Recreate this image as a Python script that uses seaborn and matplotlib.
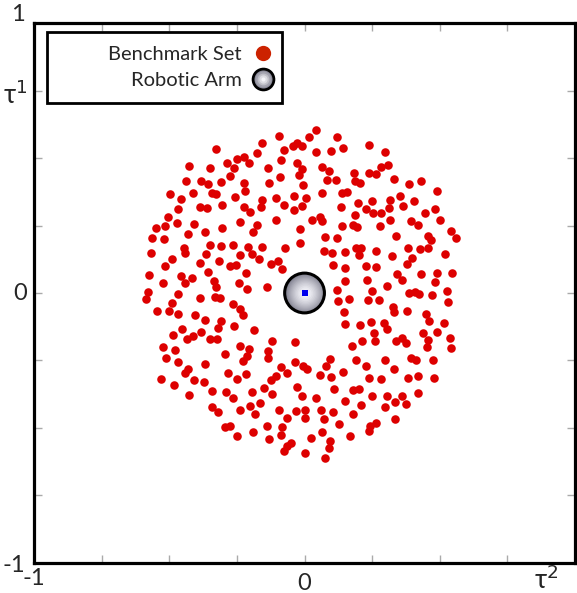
import numpy as np
import matplotlib
matplotlib.use('Agg')
import matplotlib.pyplot as plt
import seaborn as sns
from matplotlib.lines import Line2D
from matplotlib.patches import Rectangle
from matplotlib.legend_handler import HandlerTuple

# benchmark set positions (tau2, tau1)
bench_x = [0.044, -0.096, 0.017, 0.120, -0.159, -0.028, -0.042, -0.010, 0.237, -0.326,
           -0.077, 0.042, 0.096, 0.142, 0.297, -0.174, -0.224, -0.248, -0.086, -0.205,
           -0.287, -0.426, -0.348, -0.259, -0.028, -0.135, 0.066, 0.089, -0.011, 0.309,
           0.282, 0.184, 0.239, 0.266, -0.022, -0.089, -0.438, -0.384, -0.357, -0.308,
           -0.275, -0.223, -0.131, 0.083, 0.115, 0.186, 0.205, 0.330, 0.430, 0.388,
           -0.007, -0.496, -0.411, -0.342, -0.328, -0.221, 0.063, 0.137, 0.158, 0.488,
           -0.457, -0.256, -0.156, -0.104, -0.040, 0.006, 0.199, 0.251, 0.316, 0.352,
           0.406, -0.466, -0.387, -0.359, -0.306, -0.225, -0.202, -0.162, -0.075, -0.039,
           -0.011, 0.135, 0.227, 0.252, 0.311, 0.364, 0.483, -0.505, -0.548, -0.516,
           -0.473, -0.407, -0.238, -0.174, -0.105, 0.027, 0.058, 0.066, 0.188, 0.281,
           0.316, 0.392, 0.444, 0.501, -0.304, -0.017, -0.191, 0.138, 0.178, 0.195,
           0.278, 0.420, 0.543, -0.563, -0.521, -0.431, -0.369, -0.018, 0.076, 0.119,
           0.337, 0.455, 0.468, 0.560, -0.350, -0.310, -0.265, -0.208, -0.156, -0.446,
           -0.442, -0.074, 0.072, 0.103, 0.148, 0.190, 0.208, 0.200, 0.263, 0.382,
           0.428, 0.458, -0.566, -0.366, -0.240, -0.194, -0.170, -0.490, -0.317, 0.325,
           0.520, -0.515, -0.387, -0.277, -0.252, -0.124, -0.098, -0.083, 0.107, 0.148,
           0.227, 0.266, 0.397, 0.379, -0.357, -0.218, -0.575, -0.458, -0.415, -0.442,
           -0.335, -0.328, -0.241, -0.137, 0.151, 0.232, 0.303, 0.342, 0.362, 0.429,
           0.488, 0.545, 0.484, -0.525, -0.580, -0.587, -0.467, -0.387, -0.332, -0.314,
           -0.213, 0.120, 0.123, 0.163, 0.233, 0.276, 0.251, 0.388, 0.408, 0.423,
           0.473, 0.525, 0.531, -0.491, -0.545, -0.502, -0.469, -0.266, -0.239, -0.227,
           0.145, 0.326, 0.330, 0.379, 0.449, -0.453, -0.406, -0.369, -0.308, 0.151,
           0.206, 0.244, 0.292, 0.303, 0.461, 0.516, -0.487, -0.435, -0.414, -0.381,
           -0.350, -0.322, -0.320, -0.260, -0.188, 0.256, 0.439, 0.488, -0.522, -0.478,
           -0.512, -0.466, -0.295, -0.238, -0.205, -0.120, -0.034, -0.135, 0.176, 0.214,
           0.262, 0.339, 0.360, 0.376, 0.458, 0.453, 0.539, 0.540, -0.368, -0.431,
           -0.441, -0.529, -0.482, -0.407, -0.373, -0.283, -0.250, -0.216, -0.228, -0.214,
           -0.136, -0.087, -0.065, -0.034, -0.004, 0.009, 0.080, 0.093, 0.143, 0.189,
           0.229, 0.297, 0.330, 0.393, 0.411, 0.474, -0.426, -0.341, -0.289, -0.265,
           -0.195, -0.151, -0.120, -0.124, -0.104, -0.029, -0.011, 0.042, 0.056, 0.097,
           0.110, 0.148, 0.178, 0.201, 0.240, 0.282, 0.251, 0.303, 0.360, 0.382,
           0.419, 0.477, 0.419, 0.335, 0.374, -0.342, -0.320, -0.238, -0.203, -0.184,
           -0.163, -0.096, -0.063, -0.032, 0.000, 0.002, 0.061, 0.105, 0.072, 0.208,
           0.180, 0.297, 0.333, 0.265, 0.241, 0.238, -0.293, -0.276, -0.249, -0.190,
           -0.137, -0.083, -0.086, -0.132, -0.050, -0.063, 0.023, 0.066, 0.126, 0.169,
           0.093, 0.089, -0.075, 0.002, 0.075]
bench_y = [0.604, 0.583, 0.579, 0.576, 0.555, 0.557, 0.544, 0.545, 0.547, 0.533,
           0.531, 0.524, 0.527, 0.536, 0.524, 0.518, 0.505, 0.496, 0.491, 0.482,
           0.482, 0.470, 0.464, 0.464, 0.480, 0.464, 0.468, 0.451, 0.460, 0.474,
           0.465, 0.443, 0.445, 0.440, 0.437, 0.430, 0.416, 0.414, 0.404, 0.412,
           0.433, 0.409, 0.406, 0.418, 0.418, 0.416, 0.408, 0.424, 0.416, 0.403,
           0.400, 0.365, 0.371, 0.371, 0.366, 0.376, 0.369, 0.369, 0.375, 0.376,
           0.348, 0.354, 0.343, 0.351, 0.359, 0.351, 0.335, 0.340, 0.346, 0.361,
           0.340, 0.312, 0.317, 0.314, 0.327, 0.320, 0.301, 0.317, 0.325, 0.309,
           0.324, 0.318, 0.312, 0.296, 0.315, 0.324, 0.312, 0.280, 0.242, 0.247,
           0.261, 0.254, 0.263, 0.251, 0.272, 0.270, 0.282, 0.267, 0.289, 0.297,
           0.272, 0.266, 0.297, 0.270, 0.239, 0.236, 0.226, 0.247, 0.251, 0.245,
           0.247, 0.251, 0.230, 0.203, 0.199, 0.218, 0.226, 0.186, 0.208, 0.203,
           0.210, 0.210, 0.195, 0.203, 0.178, 0.173, 0.178, 0.172, 0.172, 0.166,
           0.150, 0.167, 0.157, 0.148, 0.153, 0.166, 0.168, 0.141, 0.155, 0.168,
           0.163, 0.165, 0.147, 0.143, 0.140, 0.143, 0.126, 0.126, 0.120, 0.136,
           0.143, 0.101, 0.111, 0.099, 0.103, 0.106, 0.120, 0.089, 0.105, 0.093,
           0.099, 0.096, 0.131, 0.106, 0.077, 0.074, 0.066, 0.062, 0.057, 0.037,
           0.045, 0.022, 0.037, 0.024, 0.043, 0.049, 0.026, 0.072, 0.047, 0.072,
           0.073, 0.075, 0.041, 0.038, 0.005, -0.024, -0.005, -0.020, -0.015, -0.019,
           0.014, 0.010, -0.028, -0.024, -0.027, -0.026, 0.007, 0.000, 0.005, -0.005,
           -0.007, 0.007, -0.035, -0.037, -0.068, -0.068, -0.077, -0.040, -0.059, -0.083,
           -0.069, -0.052, -0.069, -0.066, -0.078, -0.135, -0.083, -0.099, -0.103, -0.114,
           -0.118, -0.108, -0.110, -0.132, -0.103, -0.110, -0.157, -0.171, -0.160, -0.143,
           -0.171, -0.172, -0.130, -0.124, -0.136, -0.147, -0.148, -0.146, -0.199, -0.210,
           -0.240, -0.254, -0.226, -0.195, -0.208, -0.179, -0.183, -0.213, -0.198, -0.178,
           -0.178, -0.178, -0.166, -0.186, -0.173, -0.200, -0.166, -0.205, -0.262, -0.280,
           -0.297, -0.320, -0.339, -0.324, -0.330, -0.297, -0.318, -0.299, -0.252, -0.235,
           -0.240, -0.275, -0.296, -0.254, -0.272, -0.281, -0.272, -0.244, -0.293, -0.250,
           -0.270, -0.247, -0.281, -0.240, -0.250, -0.247, -0.376, -0.364, -0.367, -0.388,
           -0.367, -0.353, -0.374, -0.324, -0.309, -0.350, -0.380, -0.388, -0.302, -0.312,
           -0.354, -0.401, -0.361, -0.355, -0.314, -0.318, -0.383, -0.383, -0.380, -0.314,
           -0.309, -0.314, -0.371, -0.404, -0.411, -0.423, -0.442, -0.434, -0.417, -0.448,
           -0.409, -0.435, -0.463, -0.438, -0.432, -0.464, -0.435, -0.439, -0.468, -0.413,
           -0.448, -0.421, -0.468, -0.480, -0.494, -0.512, -0.495, -0.491, -0.528, -0.516,
           -0.494, -0.495, -0.526, -0.541, -0.554, -0.565, -0.537, -0.516, -0.487, -0.528,
           -0.549, -0.575, -0.584, -0.594, -0.611]

# robotic arm position
arm_x = [0.0]
arm_y = [0.0]

labels = ['Benchmark Set', 'Robotic Arm']

sns.set_style('white')
plt.rcParams['font.family'] = ['Lato', 'DejaVu Sans']

fig = plt.figure(figsize=(5.77, 5.93), dpi=100)
ax = fig.add_axes([0.059, 0.0506, 0.9376, 0.9106])

sns.scatterplot(x=bench_x, y=bench_y, ax=ax, color='#dd0000', s=38,
                linewidth=0, zorder=3, legend=False)

# shaded sphere for the robotic arm
shades = np.linspace(0, 1, 14)
for i, t in enumerate(shades):
    size = 800 * (1 - t) ** 1.3 + 8
    c = np.array([0.52, 0.52, 0.58]) * (1 - t) + np.array([0.98, 0.98, 1.0]) * t
    ax.scatter(arm_x, arm_y, s=size, color=c, linewidth=0, zorder=4 + i * 0.01)
ax.scatter(arm_x, arm_y, s=820, facecolor='none', edgecolor='black',
           linewidth=2.2, zorder=5)
ax.scatter(arm_x, arm_y, s=14, marker='s', color='#0000ee', linewidth=0, zorder=6)

ax.set_xlim(-1, 0.985)
ax.set_ylim(-1, 1)
ax.set_xticks(np.arange(-1, 1.01, 0.25))
ax.set_yticks(np.arange(-1, 1.01, 0.25))
ax.set_xticklabels([])
ax.set_yticklabels([])
ax.tick_params(direction='in', length=6, width=1, color='#aaaaaa',
               top=True, right=True, bottom=True, left=True)
for s in ax.spines.values():
    s.set_linewidth(2.3)
    s.set_color('black')

fs = 17
ty = ax.get_yaxis_transform()
tx = ax.get_xaxis_transform()
ax.text(-0.03, 1.03, '1', transform=ty, fontsize=fs, ha='center', va='center', clip_on=False)
ax.text(-0.026, 0.0, '0', transform=ty, fontsize=fs, ha='center', va='center', clip_on=False)
ax.text(-0.037, -1.01, '-1', transform=ty, fontsize=fs, ha='center', va='center', clip_on=False)
ax.text(-0.035, 0.734, r'τ$^1$', transform=ty, fontsize=fs + 2, ha='center', va='center', clip_on=False)
ax.text(-1.0, -0.028, '-1', transform=tx, fontsize=fs, ha='center', va='center', clip_on=False)
ax.text(0.0, -0.038, '0', transform=tx, fontsize=fs, ha='center', va='center', clip_on=False)
ax.text(0.893, -0.031, r'τ$^2$', transform=tx, fontsize=fs + 2, ha='center', va='center', clip_on=False)

# legend frame drawn separately so the entries can sit to the right
ax.add_patch(Rectangle((0.024, 0.852), 0.434, 0.131, transform=ax.transAxes,
                       facecolor='white', edgecolor='black', linewidth=2,
                       zorder=7, clip_on=False))

red_h = Line2D([], [], marker='o', linestyle='none', markersize=11,
               markerfacecolor='#cc2200', markeredgewidth=0)
arm_parts = [Line2D([], [], marker='o', linestyle='none', markersize=15,
                    markerfacecolor='#8a8a98', markeredgecolor='black', markeredgewidth=2)]
for ms, col in [(11.5, '#a2a2ae'), (8.5, '#c0c0c8'), (6, '#dcdce2'), (3, '#f4f4f8')]:
    arm_parts.append(Line2D([], [], marker='o', linestyle='none', markersize=ms,
                            markerfacecolor=col, markeredgewidth=0))
leg = ax.legend([red_h, tuple(arm_parts)], labels,
                handler_map={tuple: HandlerTuple(ndivide=1, pad=0)},
                loc='center right', bbox_to_anchor=(0.442, 0.9175), borderaxespad=0,
                markerfirst=False, fontsize=14.5, frameon=False,
                handlelength=1.0, handletextpad=0.55, labelspacing=0.45, borderpad=0)
leg.set_zorder(8)
for t in leg.get_texts():
    t.set_ha('right')

fig.savefig('out.png', dpi=100)
